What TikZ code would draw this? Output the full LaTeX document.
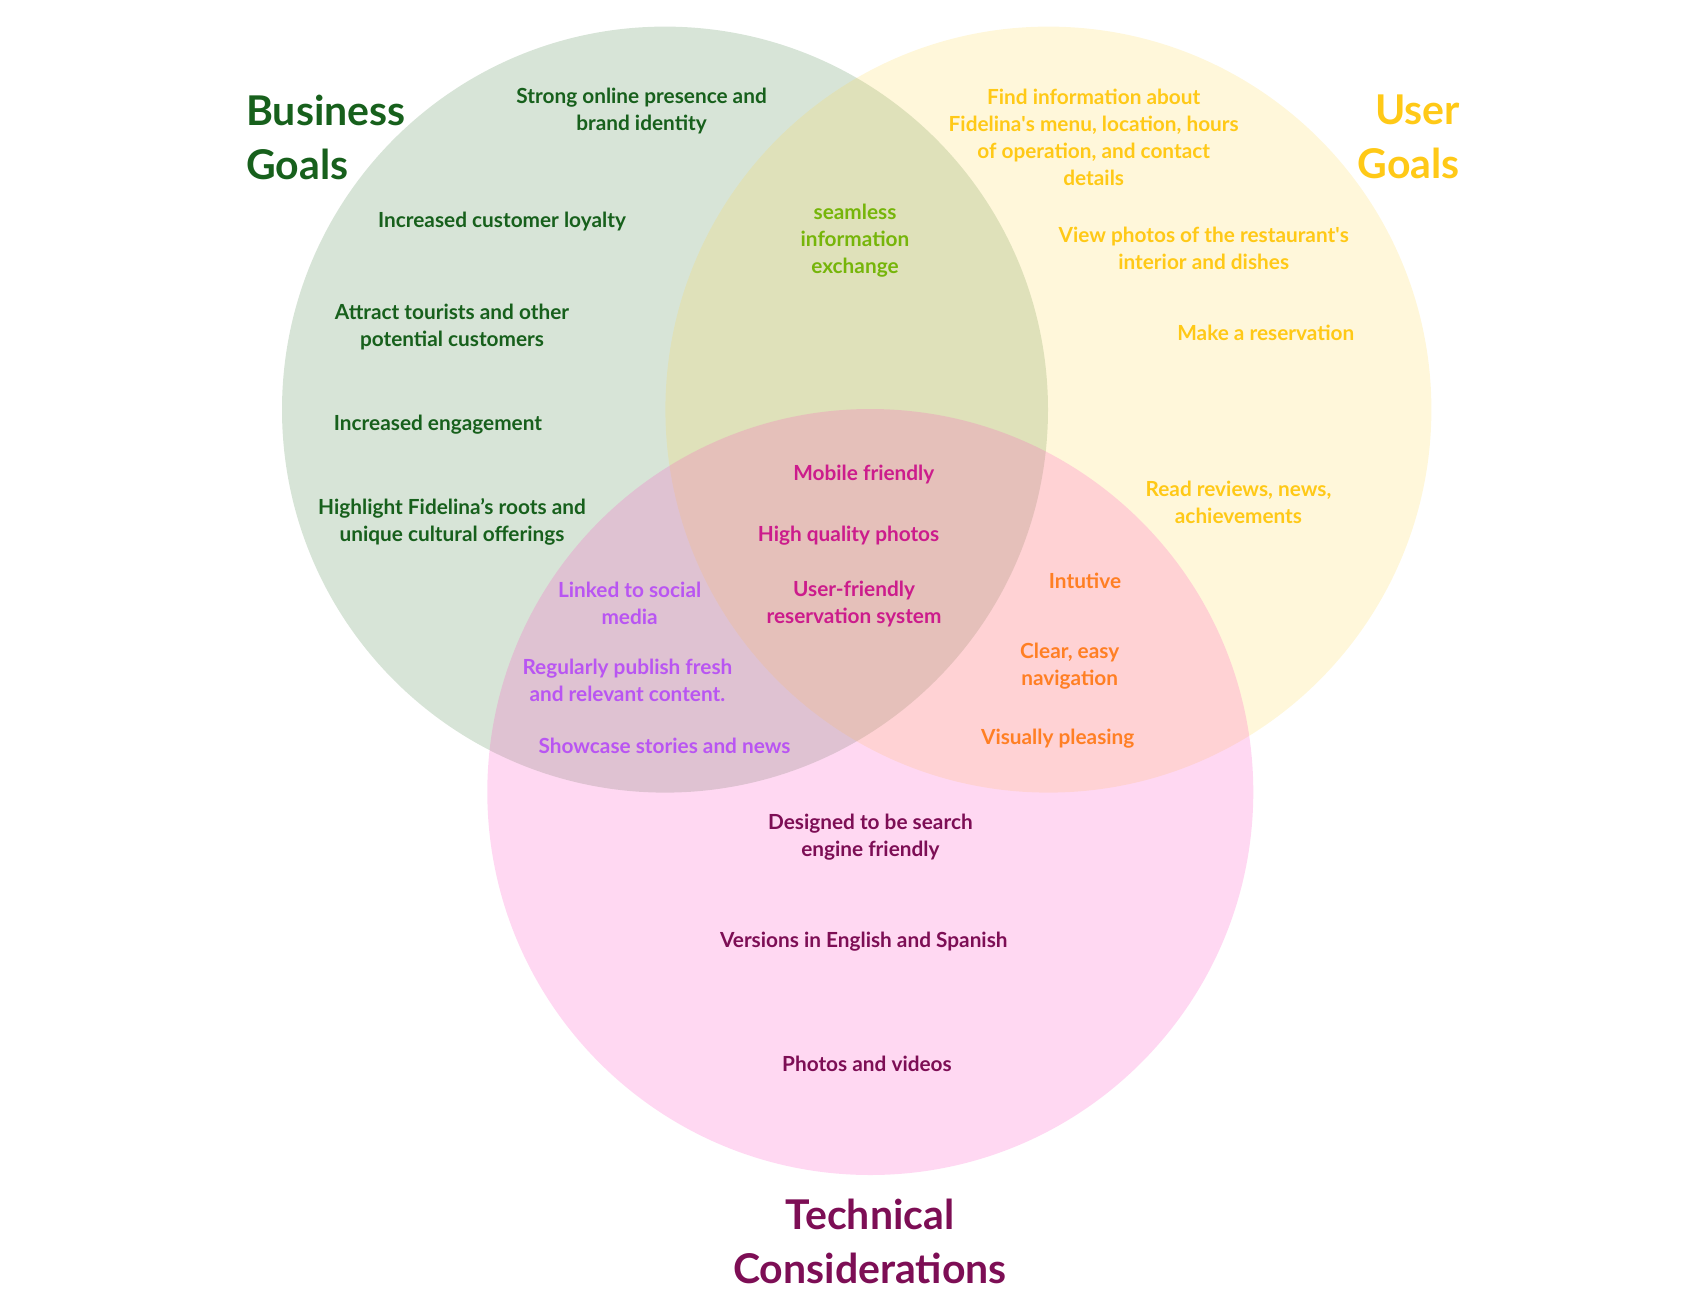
\documentclass[tikz,border=0pt]{standalone}
\usepackage{fontspec}
\setmainfont{Lato}
\usetikzlibrary{positioning}
\definecolor{gcirc}{RGB}{55,120,55}
\definecolor{ycirc}{RGB}{255,215,70}
\definecolor{pcirc}{RGB}{255,60,190}
\definecolor{bizc}{HTML}{17601C}
\definecolor{userc}{HTML}{FFC917}
\definecolor{techc}{HTML}{7D0E55}
\definecolor{sharec}{HTML}{76B50A}
\definecolor{corec}{HTML}{CC1C8C}
\definecolor{socc}{HTML}{B955F2}
\definecolor{navc}{HTML}{FF7F24}
\tikzset{
  item/.style={align=center,font=\fontsize{20.8}{27}\selectfont\bfseries,inner sep=0pt,yshift=-2.2pt},
  heading/.style={font=\fontsize{41}{54}\selectfont\bfseries,inner sep=0pt},
  set/.style={fill opacity=.2,draw=none}
}

\begin{document}
\begin{tikzpicture}[x=1pt,y=-1pt]
\useasboundingbox (0,0) rectangle (1708,1312);
% the three sets
\fill[set,gcirc] (665,409.6) circle (383);
\fill[set,ycirc] (1048.4,409.6) circle (383);
\fill[set,pcirc] (870.3,792) circle (383);
% headings
\node[heading,bizc,align=left,anchor=west] (biz) at (246,137) {Business\\Goals};
\node[heading,userc,align=right,anchor=east] (user) at (1460,137) {User\\Goals};
\node[heading,techc,align=center] (tech) at (870,1241) {Technical\\Considerations};
% business only
\node[item,bizc] (b1) at (641.6,108.4) {Strong online presence and\\brand identity};
\node[item,bizc] (b2) at (502,219) {Increased customer loyalty};
\node[item,bizc] (b3) at (452,325) {Attract tourists and other\\potential customers};
\node[item,bizc] (b4) at (438,422.6) {Increased engagement};
\node[item,bizc] (b5) at (452,520) {Highlight Fidelina’s roots and\\unique cultural offerings};
% business + user
\node[item,sharec] (bu) at (855,238.5) {seamless\\information\\exchange};
% user only
\node[item,userc] (u1) at (1093.7,135) {Find information about\\Fidelina\textquotesingle s menu, location, hours\\of operation, and contact\\details};
\node[item,userc] (u2) at (1203.7,245.8) {View photos of the restaurant\textquotesingle s\\interior and dishes};
\node[item,userc] (u3) at (1265.8,331) {Make a reservation};
\node[item,userc] (u4) at (1238.5,500.5) {Read reviews, news,\\achievements};
% all three
\node[item,corec] (c1) at (863.8,472.8) {Mobile friendly};
\node[item,corec] (c2) at (848.6,533.8) {High quality photos};
\node[item,corec] (c3) at (854,602) {User-friendly\\reservation system};
% business + technical
\node[item,socc] (bt1) at (629.6,601) {Linked to social\\media};
\node[item,socc] (bt2) at (627.4,678) {Regularly publish fresh\\and relevant content.};
\node[item,socc] (bt3) at (664.5,744) {Showcase stories and news};
% user + technical
\node[item,navc] (ut1) at (1085,578.4) {Intutive};
\node[item,navc] (ut2) at (1069.7,664) {Clear, easy\\navigation};
\node[item,navc] (ut3) at (1057.7,736.4) {Visually pleasing};
% technical only
\node[item,techc] (t1) at (870.4,835) {Designed to be search\\engine friendly};
\node[item,techc] (t2) at (863.8,939) {Versions in English and Spanish};
\node[item,techc] (t3) at (867,1062) {Photos and videos};
\end{tikzpicture}
\end{document}
